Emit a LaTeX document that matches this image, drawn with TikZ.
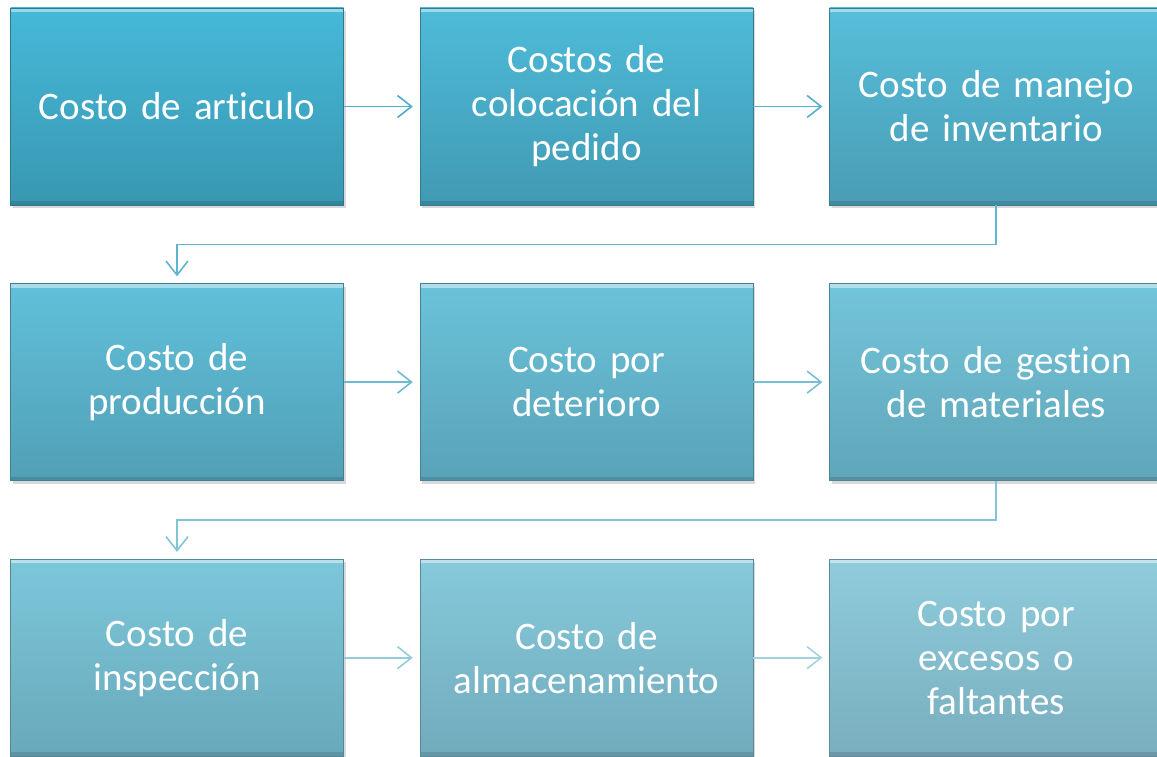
\documentclass[tikz,border=0pt]{standalone}
\usepackage{fontspec}
\setmainfont[Ligatures={NoCommon},WordSpace=0.8]{Carlito}
\usetikzlibrary{positioning,arrows.meta,shadows}

\definecolor{topfirst}{HTML}{45B9D9}
\definecolor{botfirst}{HTML}{3997B1}
\definecolor{toplast}{HTML}{8FCCDB}
\definecolor{botlast}{HTML}{79AEBE}
\definecolor{linkfirst}{HTML}{4CADCA}
\definecolor{linklast}{HTML}{ABD6E3}

\tikzset{
  stage/.style={rectangle, minimum width=333pt, minimum height=197pt,
    text width=325pt, align=center, text=white,
    font=\fontsize{39}{44}\selectfont,
    top color=toplast!#1!topfirst, bottom color=botlast!#1!botfirst,
    draw=botlast!#1!botfirst!80!black, line width=0.6pt,
    drop shadow={shadow xshift=2pt, shadow yshift=-3pt, opacity=0.3},
    path picture={
      \fill[white, opacity=0.45] (path picture bounding box.north west)
        rectangle ([yshift=-4pt]path picture bounding box.north east);
      \fill[black, opacity=0.12] (path picture bounding box.south west)
        rectangle ([yshift=4pt]path picture bounding box.south east);
    }},
  link/.style={draw=linklast!#1!linkfirst, line width=1.6pt,
    -{Straight Barb[length=14pt,width=22pt]}, shorten >=7pt}
}

\begin{document}
\begin{tikzpicture}
  \useasboundingbox (0,0) rectangle (1157pt,-757pt);

  % first row
  \node[stage=0] (art) at (177pt,-106.5pt) {Costo de articulo};
  \node[stage=12, right=76pt of art] (ped) {Costos de\\colocación del\\pedido};
  \node[stage=25, right=76pt of ped] (inv) {Costo de manejo\\de inventario};

  % second row
  \node[stage=37, below=78pt of art] (prod) {Costo de\\producción};
  \node[stage=50, right=76pt of prod] (det) {Costo por\\deterioro};
  \node[stage=62, right=76pt of det] (mat) {Costo de gestion\\de materiales};

  % third row
  \node[stage=75, below=78pt of prod] (insp) {Costo de\\inspección};
  \node[stage=87, right=76pt of insp] (alm) {Costo de\\almacenamiento};
  \node[stage=100, right=76pt of alm] (exc) {Costo por\\excesos o\\faltantes};

  \draw[link=0] (art) -- (ped);
  \draw[link=8] (ped) -- (inv);
  \draw[link=20] (inv.south) -- ++(0,-39pt) -| (prod.north);
  \draw[link=35] (prod) -- (det);
  \draw[link=45] (det) -- (mat);
  \draw[link=55] (mat.south) -- ++(0,-39pt) -| (insp.north);
  \draw[link=75] (insp) -- (alm);
  \draw[link=90] (alm) -- (exc);
\end{tikzpicture}
\end{document}
